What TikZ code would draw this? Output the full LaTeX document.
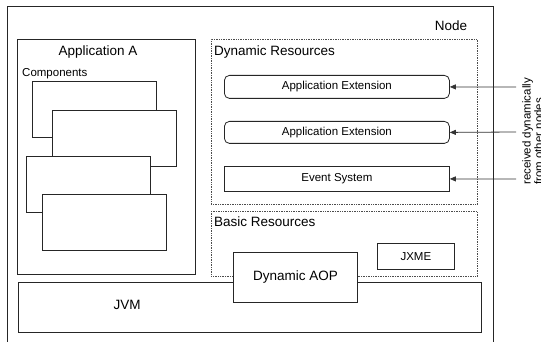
\documentclass[tikz,border=0pt]{standalone}
\usepackage{fontspec}
\setmainfont{Liberation Sans}
\usetikzlibrary{arrows.meta}
\begin{document}
\begin{tikzpicture}[x=1pt,y=-1pt,
  box/.style={draw=black!85, line width=0.8pt, fill=white, inner sep=0pt, anchor=north west},
  dotbox/.style={draw=black!70, line width=0.7pt, densely dotted, inner sep=0pt, anchor=north west},
  roundbox/.style={box, rounded corners=5pt},
  title/.style={font=\fontsize{13.5}{16}\selectfont, inner sep=0pt},
  small/.style={font=\fontsize{11.5}{13}\selectfont, inner sep=0pt},
  feed/.style={draw=black!80, line width=0.8pt, -{Triangle[length=6pt,width=5pt]}}
]
\useasboundingbox (0,0) rectangle (541,342);
\fill[white] (0,0) rectangle (541,342);

% enclosing node frame (open at the bottom)
\draw[black!85, line width=0.8pt] (7,342) -- (7,6) -- (493,6) -- (493,342);
\node[title, anchor=center] (nodelabel) at (451,26) {Node};

% application A with its stacked components
\node[box, minimum width=178pt, minimum height=235pt] (appA) at (17,39) {};
\node[title, anchor=center] (appAtitle) at (98,52) {Application A};
\node[small, anchor=west] (complabel) at (22,74) {Components};
\node[box, minimum width=124pt, minimum height=56pt] (comp1) at (32,81) {};
\node[box, minimum width=124pt, minimum height=56pt] (comp2) at (52,110) {};
\node[box, minimum width=124pt, minimum height=56pt] (comp3) at (26,156) {};
\node[box, minimum width=124pt, minimum height=56pt] (comp4) at (42,194) {};

% dynamic resources
\node[dotbox, minimum width=266pt, minimum height=165pt] (dyn) at (211,39) {};
\node[title, anchor=west] (dyntitle) at (214,52) {Dynamic Resources};
\node[roundbox, small, minimum width=225pt, minimum height=23pt] (ext1) at (224,75) {Application Extension};
\node[roundbox, small, minimum width=225pt, minimum height=22pt] (ext2) at (224,121) {Application Extension};
\node[box, small, minimum width=225pt, minimum height=25pt] (event) at (224,166) {Event System};

% basic resources
\node[dotbox, minimum width=266pt, minimum height=65pt] (basic) at (211,211) {};
\node[title, anchor=west] (basictitle) at (214,222) {Basic Resources};

% JVM layer with the AOP box on top of it
\node[box, minimum width=463pt, minimum height=50pt] (jvm) at (18,282) {};
\node[title, anchor=center] (jvmlabel) at (127,305) {JVM};
\node[box, title, minimum width=124pt, minimum height=50pt] (aop) at (233,252) {Dynamic AOP};
\node[box, small, minimum width=77pt, minimum height=26pt] (jxme) at (377,243) {JXME};

% resources arriving from other nodes
\coordinate (src1) at (516,87);
\coordinate (src2) at (516,132);
\coordinate (src3) at (516,179);
\draw[feed] (src1) -- (ext1.east);
\draw[feed] (src2) -- (ext2.east);
\draw[feed] (src3) -- (event.east);
\node[rotate=90, anchor=north west, align=left, inner sep=0pt,
      font=\fontsize{11.5}{12}\selectfont] (recv) at (522,185)
  {received dynamically\\from other nodes};
\end{tikzpicture}
\end{document}
